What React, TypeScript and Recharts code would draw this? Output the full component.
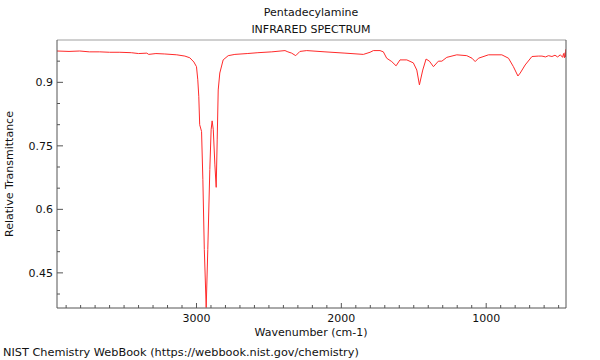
import React from 'react';
import { LineChart, Line, XAxis, YAxis } from 'recharts';

// wavenumber (cm-1), high to low
const wavenumbers = [
  3963, 3880, 3806, 3740, 3668, 3600, 3529, 3450, 3400, 3343, 3330, 3280, 3219, 3136, 3080, 3046, 3018,
  3000, 2991, 2984, 2978, 2965, 2956, 2946, 2933, 2922, 2908, 2899, 2892, 2884, 2873, 2864, 2857,
  2850, 2839, 2816, 2781, 2735, 2650, 2576, 2480, 2389, 2369, 2343, 2315, 2286, 2239, 2113, 1975,
  1848, 1802, 1779, 1733, 1710, 1687, 1652, 1622, 1595, 1548, 1503, 1479, 1461, 1438, 1415, 1392,
  1364, 1330, 1306, 1272, 1203, 1134, 1098, 1076, 1053, 984, 892, 846, 812, 781, 765, 731, 684,
  640, 615, 590, 570, 546, 525, 507, 488, 472, 466, 459, 455, 453, 451,
];

// relative transmittance at each wavenumber
const transmittance = [
  0.974, 0.973, 0.974, 0.972, 0.972, 0.971, 0.971, 0.97, 0.968, 0.969, 0.966, 0.968, 0.967, 0.965, 0.962, 0.958, 0.948,
  0.937, 0.906, 0.866, 0.8, 0.784, 0.67, 0.505, 0.368, 0.505, 0.694, 0.788, 0.809, 0.788, 0.705, 0.652, 0.764,
  0.882, 0.922, 0.953, 0.963, 0.966, 0.968, 0.97, 0.972, 0.975, 0.972, 0.969, 0.963, 0.973, 0.975, 0.972, 0.969,
  0.966, 0.971, 0.975, 0.975, 0.972, 0.957, 0.949, 0.939, 0.953, 0.953, 0.946, 0.929, 0.894, 0.929, 0.955, 0.95,
  0.937, 0.95, 0.95, 0.959, 0.965, 0.963, 0.957, 0.949, 0.957, 0.965, 0.965, 0.957, 0.937, 0.915, 0.922, 0.941, 0.961,
  0.962, 0.962, 0.96, 0.963, 0.961, 0.964, 0.96, 0.965, 0.959, 0.968, 0.958, 0.97, 0.96, 0.978, 1.0,
];

const xTicks = [
  3900, 3800, 3700, 3600, 3500, 3400, 3300, 3200, 3100, 3000, 2900, 2800, 2700, 2600, 2500, 2400, 2300,
  2200, 2100, 2000, 1900, 1800, 1700, 1600, 1500, 1400, 1300, 1200, 1100, 1000, 900, 800, 700, 600, 500,
];
const yTicks = [0.4, 0.45, 0.5, 0.55, 0.6, 0.65, 0.7, 0.75, 0.8, 0.85, 0.9, 0.95];
const yLabeled = [0.45, 0.6, 0.75, 0.9];

const data = wavenumbers.map((w, i) => ({ w, t: transmittance[i] }));

const FONT = '"DejaVu Sans", sans-serif';
const AXIS = '#555555';

// ticks point inward; only the labelled ones are long
function XTick(props: any) {
  const { x, y, payload } = props;
  const major = payload.value % 1000 === 0;
  return (
    <g>
      <line x1={x} x2={x} y1={y} y2={y - (major ? 5 : 3)} stroke={AXIS} />
      {major && (
        <text x={x} y={y + 14} textAnchor="middle" fontSize={11} fontFamily={FONT} fill="#111">
          {payload.value}
        </text>
      )}
    </g>
  );
}

function YTick(props: any) {
  const { x, y, payload } = props;
  const major = yLabeled.some((v) => Math.abs(v - payload.value) < 1e-6);
  return (
    <g>
      <line x1={x} x2={x + (major ? 6 : 3)} y1={y} y2={y} stroke={AXIS} />
      {major && (
        <text x={x - 4} y={y + 4} textAnchor="end" fontSize={11} fontFamily={FONT} fill="#111">
          {payload.value}
        </text>
      )}
    </g>
  );
}

const textStyle: React.CSSProperties = {
  position: 'absolute',
  fontFamily: FONT,
  fontSize: 11,
  color: '#111',
  whiteSpace: 'nowrap',
  lineHeight: '14px',
};

export default function App() {
  return (
    <div style={{ position: 'absolute', left: 0, top: 0, width: 600, height: 360, background: '#fff' }}>
      <LineChart
        width={600}
        height={360}
        data={data}
        margin={{ top: 39, right: 33, left: 0, bottom: 0 }}
      >
        <XAxis
          dataKey="w"
          type="number"
          domain={[449, 3963]}
          reversed
          allowDataOverflow
          ticks={xTicks}
          interval={0}
          height={52}
          tickSize={0}
          tickMargin={0}
          tickLine={false}
          axisLine={{ stroke: AXIS }}
          tick={<XTick />}
        />
        <XAxis
          xAxisId="top"
          orientation="top"
          dataKey="w"
          type="number"
          domain={[449, 3963]}
          reversed
          height={1}
          tick={false}
          tickLine={false}
          axisLine={{ stroke: '#a0a0a0' }}
        />
        <YAxis
          type="number"
          domain={[0.367, 1.0]}
          allowDataOverflow
          ticks={yTicks}
          interval={0}
          width={57}
          tickSize={0}
          tickMargin={0}
          tickLine={false}
          axisLine={{ stroke: AXIS }}
          tick={<YTick />}
        />
        <YAxis
          yAxisId="right"
          orientation="right"
          type="number"
          domain={[0.367, 1.0]}
          width={1}
          tick={false}
          tickLine={false}
          axisLine={{ stroke: AXIS }}
        />
        <Line
          dataKey="t"
          type="linear"
          stroke="#ff2a2a"
          strokeWidth={1}
          dot={false}
          isAnimationActive={false}
        />
      </LineChart>
      <div style={{ ...textStyle, left: 0, width: 622, top: 6, textAlign: 'center' }}>Pentadecylamine</div>
      <div style={{ ...textStyle, left: 0, width: 622, top: 23, textAlign: 'center' }}>INFRARED SPECTRUM</div>
      <div style={{ ...textStyle, left: 0, width: 622, top: 326, textAlign: 'center' }}>Wavenumber (cm-1)</div>
      <div style={{ ...textStyle, fontSize: 11.3, left: 3, top: 346 }}>
        NIST Chemistry WebBook (https://webbook.nist.gov/chemistry)
      </div>
      <div
        style={{
          ...textStyle,
          left: 10,
          top: 174,
          transform: 'translate(-50%, -50%) rotate(-90deg)',
        }}
      >
        Relative Transmittance
      </div>
    </div>
  );
}
